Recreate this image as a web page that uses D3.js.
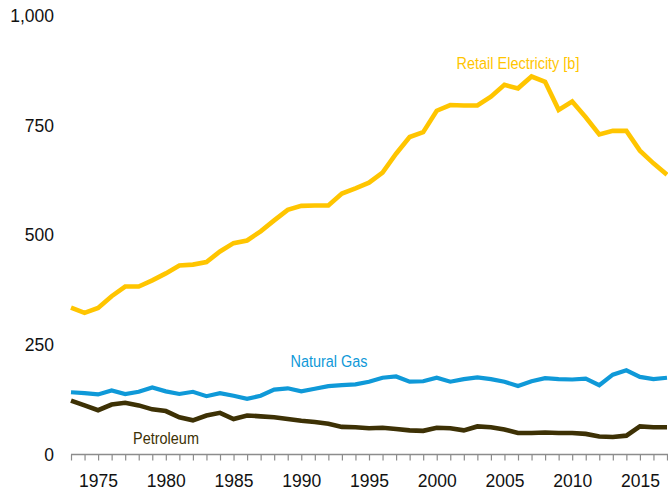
<!DOCTYPE html>
<html>
<head>
<meta charset="utf-8">
<script src="https://cdn.jsdelivr.net/npm/d3@7"></script>
<style>
    body { margin: 0; background: #fff; }
    #chart { width: 668px; height: 495px; }
    text { font-family: "Liberation Sans", Arial, sans-serif; }
</style>
</head>
<body>
<div id="chart"></div>
<script>
//data
var years = d3.range(1973, 2018);

var electricity = [335, 323, 334, 361, 383, 383, 397, 413, 431, 433, 439, 463, 482, 488, 509,
    534, 558, 567, 568, 568, 595, 607, 620, 643, 686, 724, 735, 784, 797, 796,
    796, 816, 843, 835, 862, 850, 786, 805, 769, 730, 738, 738, 693, 664, 638];

var naturalGas = [142, 140, 137, 146, 138, 143, 153, 144, 138, 143, 133, 140, 134, 127, 134,
    148, 151, 144, 150, 156, 158, 160, 166, 175, 178, 166, 167, 175, 166, 172,
    176, 172, 166, 156, 167, 174, 172, 171, 173, 158, 182, 192, 177, 172, 175];

var petroleum = [123, 112, 101, 114, 118, 112, 103, 99, 85, 78, 89, 95, 81, 89, 87,
    85, 81, 77, 74, 70, 63, 62, 60, 61, 58, 55, 54, 61, 60, 55,
    64, 62, 57, 49, 49, 50, 49, 49, 47, 41, 40, 43, 64, 62, 62];

var yTicks = [0, 250, 500, 750, 1000];
var xLabelYears = [1975, 1980, 1985, 1990, 1995, 2000, 2005, 2010, 2015];

var seriesList = [
    { name: "Retail Electricity [b]", values: electricity, color: "#ffc500", width: 4.6, lx: 518, ly: 63 },
    { name: "Natural Gas", values: naturalGas, color: "#0f99d8", width: 4.2, lx: 329, ly: 361 },
    { name: "Petroleum", values: petroleum, color: "#3d3105", width: 4.6, lx: 166, ly: 438 }
];

var width = 668,
    height = 495;

var svg = d3.select("#chart")
    .append("svg")
    .attr("width", width)
    .attr("height", height);

var x = d3.scaleLinear()
    .domain([1973, 2017])
    .range([71, 667]);

var y = d3.scaleLinear()
    .domain([0, 1000])
    .range([454.5, 16]);

//x axis: a tick each year, a label every 5 years
var xAxis = svg.append("g")
    .attr("transform", "translate(0," + y(0) + ")")
    .call(d3.axisBottom(x)
        .tickValues(years)
        .tickSize(6)
        .tickPadding(14)
        .tickSizeOuter(0)
        .tickFormat(function (d) { return xLabelYears.indexOf(d) >= 0 ? d : ""; }));

xAxis.select(".domain")
    .attr("stroke", "#8c8c8c")
    .attr("stroke-width", 1.5)
    .attr("d", "M" + x(1973) + ",0H" + width);
xAxis.selectAll(".tick line").attr("stroke", "#8c8c8c").attr("stroke-width", 1.2);
xAxis.selectAll(".tick text")
    .attr("fill", "#111")
    .style("font-size", "17.5px");

//y axis: labels only
var yAxis = svg.append("g")
    .attr("transform", "translate(" + x(1973) + ",0)")
    .call(d3.axisLeft(y)
        .tickValues(yTicks)
        .tickSize(0)
        .tickPadding(17)
        .tickFormat(d3.format(",")));

yAxis.select(".domain").remove();
yAxis.selectAll(".tick text")
    .attr("fill", "#111")
    .style("font-size", "17.5px");

var lineGenerator = d3.line()
    .x(function (d, i) { return x(years[i]); })
    .y(function (d) { return y(d); });

//draw lines, petroleum first so electricity sits on top
seriesList.slice().reverse().forEach(function (s) {
    svg.append("path")
        .attr("fill", "none")
        .attr("stroke", s.color)
        .attr("stroke-width", s.width)
        .attr("stroke-linejoin", "miter")
        .attr("d", lineGenerator(s.values));
});

//series labels (narrow type, like the original)
seriesList.forEach(function (s) {
    svg.append("text")
        .attr("transform", "translate(" + s.lx + "," + s.ly + ") scale(0.85,1)")
        .attr("text-anchor", "middle")
        .attr("dy", "0.35em")
        .attr("fill", s.color)
        .style("font-size", "17px")
        .text(s.name);
});
</script>
</body>
</html>
